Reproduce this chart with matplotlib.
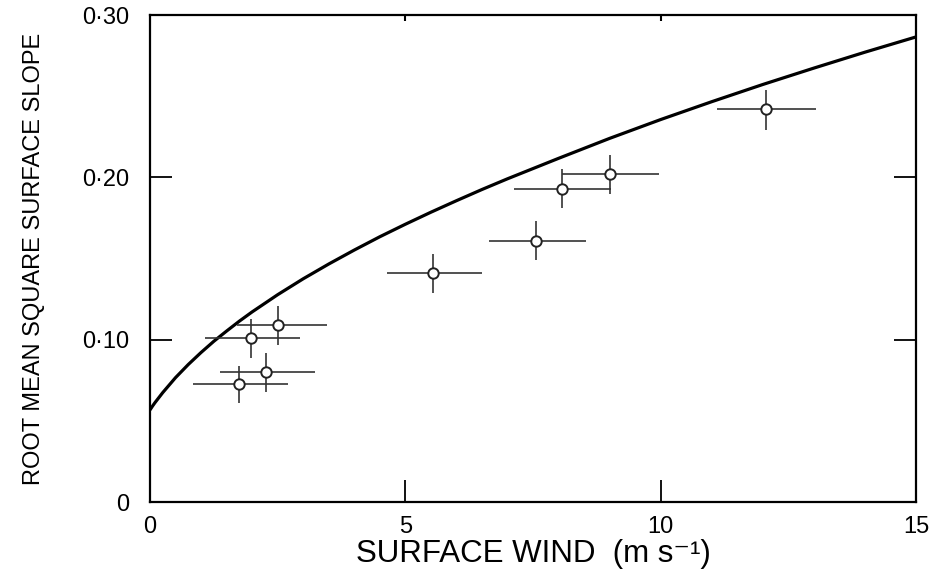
import matplotlib
matplotlib.use("Agg")
import matplotlib.pyplot as plt

# Curve
curve_x = [0, 0.05, 0.1, 0.25, 0.5, 0.75, 1, 1.25, 1.5, 1.75, 2, 2.5, 3, 3.5, 4, 4.5,
           5, 5.5, 6, 6.5, 7, 8, 9, 10, 11, 12, 13, 14, 15]
curve_y = [0.0567, 0.0591, 0.0613, 0.0674, 0.0766, 0.0847, 0.0921, 0.0990, 0.1053,
           0.1114, 0.1171, 0.1277, 0.1375, 0.1466, 0.1552, 0.1634, 0.1711, 0.1785,
           0.1856, 0.1925, 0.1991, 0.2117, 0.2240, 0.2356, 0.2466, 0.2572, 0.2673,
           0.2771, 0.2865]

# Observations
obs_x = [1.75, 2.28, 1.97, 2.50, 5.55, 7.55, 8.06, 9.01, 12.06]
obs_y = [0.0724, 0.0798, 0.101, 0.109, 0.141, 0.161, 0.193, 0.202, 0.242]
obs_x_lo = [0.85, 1.37, 1.08, 1.70, 4.64, 6.63, 7.12, 8.06, 11.11]
obs_x_hi = [2.70, 3.24, 2.94, 3.46, 6.50, 8.53, 9.02, 9.97, 13.04]
obs_y_lo = [0.061, 0.068, 0.089, 0.097, 0.129, 0.149, 0.181, 0.190, 0.229]
obs_y_hi = [0.0835, 0.0917, 0.113, 0.121, 0.153, 0.173, 0.205, 0.2135, 0.254]

x_ticks = [0, 5, 10, 15]
x_ticklabels = ["0", "5", "10", "15"]
y_ticks = [0, 0.10, 0.20, 0.30]
y_ticklabels = ["0", "0\u00b710", "0\u00b720", "0\u00b730"]

plt.rcParams['font.family'] = ['Liberation Sans', 'DejaVu Sans']

fig = plt.figure(figsize=(9.35, 5.73), dpi=100)
ax = fig.add_axes([0.1604, 0.1239, 0.8193, 0.8499])

ax.plot(curve_x, curve_y, color='black', lw=2.3, solid_capstyle='butt',
        solid_joinstyle='round', zorder=3)

xerr = [[x - lo for x, lo in zip(obs_x, obs_x_lo)], [hi - x for x, hi in zip(obs_x, obs_x_hi)]]
yerr = [[y - lo for y, lo in zip(obs_y, obs_y_lo)], [hi - y for y, hi in zip(obs_y, obs_y_hi)]]
ax.errorbar(obs_x, obs_y, xerr=xerr, yerr=yerr, fmt='o', mfc='white', mec='#222222',
            mew=1.4, ms=7.5, ecolor='#333333', elinewidth=1.2, capsize=0, zorder=4)

ax.set_xlim(0, 15)
ax.set_ylim(0, 0.30)
ax.set_xticks(x_ticks)
ax.set_xticklabels(x_ticklabels)
ax.set_yticks(y_ticks)
ax.set_yticklabels(y_ticklabels)
ax.tick_params(axis='both', direction='in', length=16, width=1.3, labelsize=17, color='black')
ax.tick_params(axis='x', pad=10)
ax.tick_params(axis='y', pad=15, right=True)

sec = ax.secondary_xaxis('top')
sec.set_xticks([5, 10])
sec.tick_params(direction='in', length=4, width=1.5, labeltop=False)
sec.spines['top'].set_visible(False)

for s in ax.spines.values():
    s.set_linewidth(1.6)

ax.set_xlabel("SURFACE WIND  (m s\u207b\u00b9)", fontsize=22.5, va='top')
ax.xaxis.set_label_coords(0.5, -0.076)
ax.set_ylabel("ROOT MEAN SQUARE SURFACE SLOPE", fontsize=17)
ax.yaxis.set_label_coords(-0.137, 0.5)

fig.savefig("out.png", dpi=100)
